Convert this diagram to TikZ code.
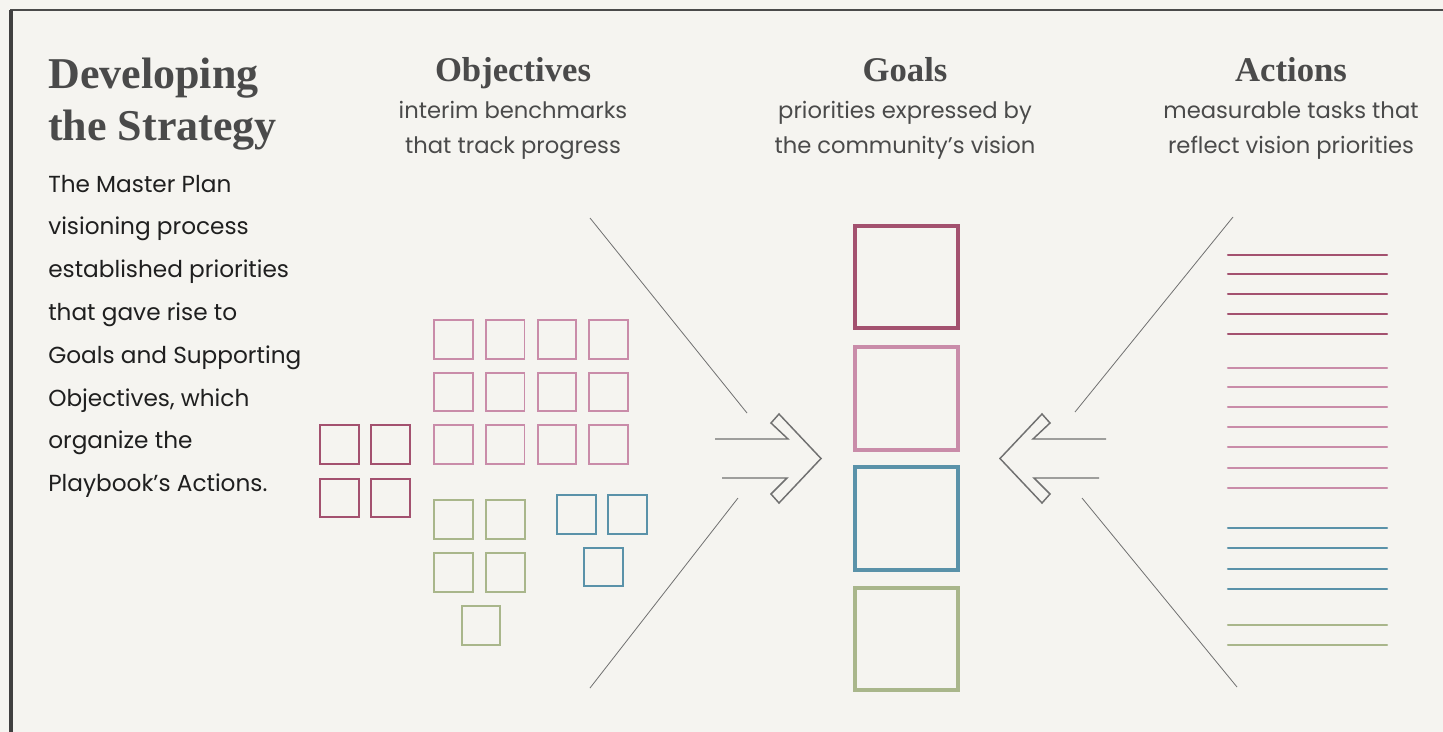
\documentclass[tikz,border=0pt]{standalone}
\usepackage{fontspec}
\usepackage{tikz}
\usetikzlibrary{positioning}

\newfontfamily\headfont{Liberation Serif}
\newfontfamily\bodyfont{Poppins}

\definecolor{paper}{HTML}{F5F4F0}
\definecolor{rosedark}{HTML}{A3516F}
\definecolor{rosemid}{HTML}{C98CA9}
\definecolor{tealblue}{HTML}{5A92A9}
\definecolor{sage}{HTML}{A9B68B}
\definecolor{ink}{HTML}{4A4A4A}
\definecolor{pencil}{HTML}{707070}

\begin{document}
\begin{tikzpicture}[
    x=0.75pt, y=-0.75pt,
    bigtitle/.style={font=\headfont\bfseries\fontsize{33}{38}\selectfont, text=ink, anchor=base west, inner sep=0pt},
    colhead/.style={font=\headfont\bfseries\fontsize{26}{30}\selectfont, text=ink, anchor=base, inner sep=0pt},
    colsub/.style={font=\bodyfont\fontsize{17}{20}\selectfont, text=ink, anchor=base, inner sep=0pt},
    bodyline/.style={font=\bodyfont\fontsize{17.4}{20}\selectfont, text=black!88, anchor=base west, inner sep=0pt},
    goalbox/.style={draw=#1, line width=3pt, minimum size=77pt, inner sep=0pt},
    objbox/.style={draw=#1, line width=1.4pt, minimum size=29pt, inner sep=0pt},
    taskline/.style={draw=#1, line width=1.6pt, line cap=round},
    guide/.style={draw=pencil, line width=0.6pt},
    chevron/.style={draw=pencil, line width=1.1pt, line join=miter}
]
    \useasboundingbox (0,0) rectangle (1443,732);
    \fill[paper] (0,0) rectangle (1443,732);

    % frame
    \draw[ink, line width=1.5pt] (10,10) -- (1443,10);
    \draw[black!75, line width=2.4pt] (11,10) -- (11,732);

    % left column text
    \node[bigtitle] (t1) at (48,88) {Developing};
    \node[bigtitle] (t2) at (48,140) {the Strategy};
    \foreach \txt [count=\i] in {The Master Plan, visioning process, established priorities,
        that gave rise to, Goals and Supporting, {Objectives, which}, organize the,
        Playbook’s Actions.}
        \node[bodyline] (p\i) at (48, 192+42.8*\i-42.8) {\txt};

    % column headings
    \node[colhead] (hobj) at (513,81) {Objectives};
    \node[colsub] (sobj1) at (513,118) {interim benchmarks};
    \node[colsub] (sobj2) at (513,153) {that track progress};

    \node[colhead] (hgoal) at (905,81) {Goals};
    \node[colsub] (sgoal1) at (905,118) {priorities expressed by};
    \node[colsub] (sgoal2) at (905,153) {the community’s vision};

    \node[colhead] (hact) at (1291,81) {Actions};
    \node[colsub] (sact1) at (1291,118) {measurable tasks that};
    \node[colsub] (sact2) at (1291,153) {reflect vision priorities};

    % objectives
    \foreach \c in {0,...,3}
        \foreach \r in {0,1,2}
            \node[objbox=rosemid] (o\r\c) at (453.5+51.7*\c, 339.5+52.5*\r) {};
    \foreach \c in {0,1}
        \foreach \r in {0,1}
            \node[objbox=rosedark] (od\r\c) at (339.5+51*\c, 444.5+53.5*\r) {};
    \foreach \c in {0,1}
        \foreach \r in {0,1}
            \node[objbox=sage] (og\r\c) at (453.5+52*\c, 519.5+53*\r) {};
    \node[objbox=sage] (og2) at (481,625.5) {};
    \node[objbox=tealblue] (ob1) at (576.5,514.5) {};
    \node[objbox=tealblue] (ob2) at (627.5,514.5) {};
    \node[objbox=tealblue] (ob3) at (603.5,567) {};

    % goals
    \node[goalbox=rosedark] (g1) at (906.5,277) {};
    \node[goalbox=rosemid] (g2) at (906.5,398.5) {};
    \node[goalbox=tealblue] (g3) at (906.5,518.5) {};
    \node[goalbox=sage] (g4) at (906.5,639) {};

    % actions
    \foreach \y in {255,274,294,314,334}
        \draw[taskline=rosedark] (1228,\y) -- (1387,\y);
    \foreach \y in {368,387,407,427,447,468,488}
        \draw[taskline=rosemid] (1228,\y) -- (1387,\y);
    \foreach \y in {528,548,569,589}
        \draw[taskline=tealblue] (1228,\y) -- (1387,\y);
    \foreach \y in {625,645}
        \draw[taskline=sage] (1228,\y) -- (1387,\y);

    % funnel lines
    \draw[guide] (590,218) -- (747,413);
    \draw[guide] (738,498) -- (590,688);
    \draw[guide] (1233,217) -- (1075,412);
    \draw[guide] (1082,498) -- (1237,687);

    % open arrows into the goals
    \draw[chevron] (715,439) -- (788,439) -- (771,423) -- (779,414) -- (821,458.5)
        -- (779,503) -- (771,494) -- (787,478) -- (722,478);
    \draw[chevron] (1106,439) -- (1033,439) -- (1050,423) -- (1042,414) -- (1000,458.5)
        -- (1042,503) -- (1050,494) -- (1034,478) -- (1099,478);
\end{tikzpicture}
\end{document}
